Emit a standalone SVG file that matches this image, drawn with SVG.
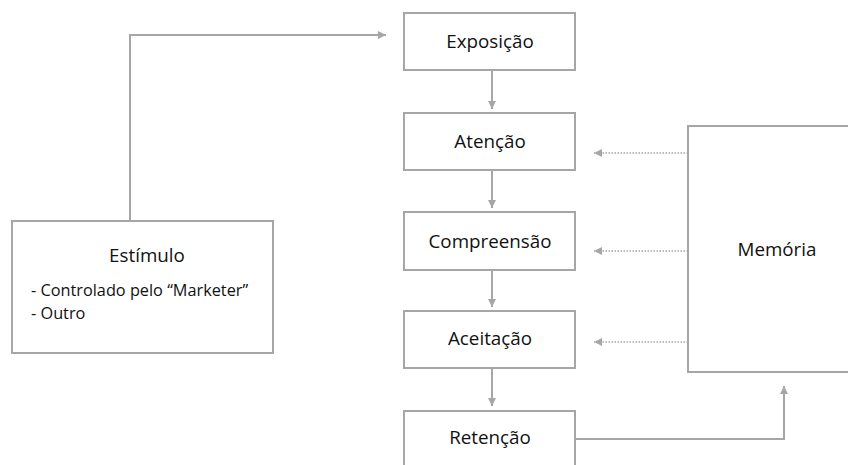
<svg xmlns="http://www.w3.org/2000/svg" width="848" height="465" viewBox="0 0 848 465">
  <defs>
    <marker id="arrow" viewBox="0 0 10 10" refX="10" refY="5" markerWidth="12" markerHeight="8" markerUnits="userSpaceOnUse" orient="auto">
      <path d="M0,0 L10,5 L0,10 Z" fill="#a6a6a6"/>
    </marker>
  </defs>
  <style>
    .box { fill: #ffffff; stroke: #a6a6a6; stroke-width: 2; }
    .label { font-family: "Open Sans", "Liberation Sans", sans-serif; font-size: 18.8px; fill: #111111; text-anchor: middle; }
    .item { font-family: "Open Sans", "Liberation Sans", sans-serif; font-size: 16.3px; fill: #111111; }
    .flow { fill: none; stroke: #a6a6a6; stroke-width: 2; marker-end: url(#arrow); }
    .recall { fill: none; stroke: #a6a6a6; stroke-width: 1.5; stroke-dasharray: 1.5 1.5; marker-end: url(#arrow); }
  </style>
  <rect width="848" height="465" fill="#ffffff"/>

  <g id="connectors">
    <polyline class="flow" points="130,221 130,35 386,35"/>
    <line class="flow" x1="492" y1="70" x2="492" y2="109"/>
    <line class="flow" x1="492" y1="170" x2="492" y2="208"/>
    <line class="flow" x1="492" y1="270" x2="492" y2="307"/>
    <line class="flow" x1="492" y1="368" x2="492" y2="406"/>
    <polyline class="flow" points="575,439 784,439 784,386"/>
    <line class="recall" x1="688" y1="153" x2="594" y2="153"/>
    <line class="recall" x1="688" y1="251" x2="594" y2="251"/>
    <line class="recall" x1="688" y1="342" x2="594" y2="342"/>
  </g>

  <g id="estimulo">
    <rect class="box" x="12" y="221" width="261" height="132"/>
    <text class="label" x="147" y="262">Estímulo</text>
    <text class="item" x="31" y="296">- Controlado pelo “Marketer”</text>
    <text class="item" x="31" y="319">- Outro</text>
  </g>

  <g id="exposicao">
    <rect class="box" x="404" y="13" width="171" height="57"/>
    <text class="label" x="490" y="48">Exposição</text>
  </g>

  <g id="atencao">
    <rect class="box" x="404" y="113" width="171" height="57"/>
    <text class="label" x="490" y="148">Atenção</text>
  </g>

  <g id="compreensao">
    <rect class="box" x="404" y="212" width="171" height="58"/>
    <text class="label" x="490" y="248">Compreensão</text>
  </g>

  <g id="aceitacao">
    <rect class="box" x="404" y="311" width="171" height="57"/>
    <text class="label" x="490" y="345">Aceitação</text>
  </g>

  <g id="retencao">
    <rect class="box" x="404" y="411" width="171" height="62"/>
    <text class="label" x="490" y="444">Retenção</text>
  </g>

  <g id="memoria">
    <rect class="box" x="688" y="126" width="182" height="246"/>
    <text class="label" x="777" y="256">Memória</text>
  </g>
</svg>
